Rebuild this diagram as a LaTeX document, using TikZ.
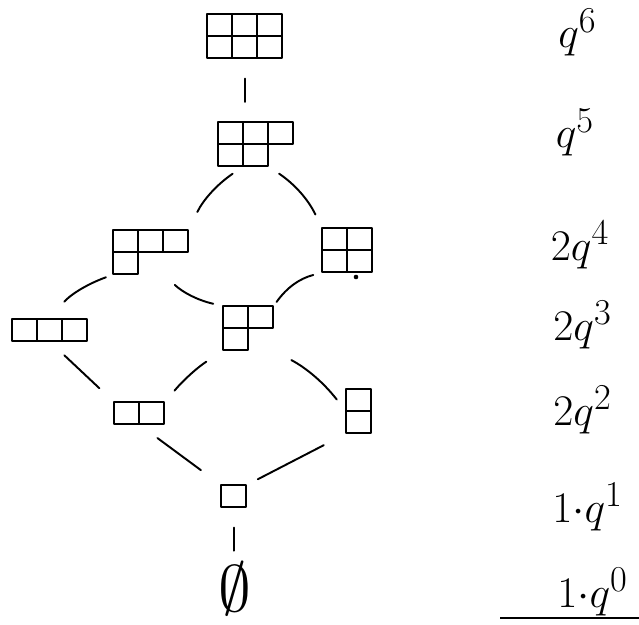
\documentclass[tikz,border=0pt]{standalone}
\usetikzlibrary{positioning}

% cells of a Young diagram, drawn from the north west corner of node #1
\newcommand{\ycells}[2]{%
  \foreach \len [count=\r] in {#2}
    \foreach \c in {1,...,\len}
      \draw[box] (#1.north west) ++({(\c-1)*0.5},{-(\r-1)*0.44}) rectangle ++(0.5,-0.44);
}

\begin{document}
\begin{tikzpicture}[
    box/.style={line width=1.2pt, line join=round},
    yd/.style={inner sep=0pt, anchor=north west},
    edge/.style={line width=1.1pt, line cap=round},
    lbl/.style={font=\Huge}
]
  \useasboundingbox (0,0) rectangle (12.78,12.5);

  % Level 6
  \node[yd, minimum width=1.5cm, minimum height=0.88cm] (t33) at (4.14,12.22) {};
  \ycells{t33}{3,3}

  % Level 5
  \node[yd, minimum width=1.5cm, minimum height=0.88cm] (t32) at (4.36,10.06) {};
  \ycells{t32}{3,2}

  % Level 4
  \node[yd, minimum width=1.5cm, minimum height=0.88cm] (t31) at (2.26,7.90) {};
  \ycells{t31}{3,1}
  \node[yd, minimum width=1.0cm, minimum height=0.88cm] (t22) at (6.44,7.94) {};
  \ycells{t22}{2,2}

  % Level 3
  \node[yd, minimum width=1.5cm, minimum height=0.44cm] (t3) at (0.24,6.12) {};
  \ycells{t3}{3}
  \node[yd, minimum width=1.0cm, minimum height=0.88cm] (t21) at (4.46,6.38) {};
  \ycells{t21}{2,1}

  % Level 2
  \node[yd, minimum width=1.0cm, minimum height=0.44cm] (t2) at (2.28,4.46) {};
  \ycells{t2}{2}
  \node[yd, minimum width=0.5cm, minimum height=0.88cm] (t11) at (6.92,4.72) {};
  \ycells{t11}{1,1}

  % Level 1
  \node[yd, minimum width=0.5cm, minimum height=0.44cm] (t1) at (4.42,2.80) {};
  \ycells{t1}{1}

  % Level 0
  \node[font=\Huge, scale=1.5] (t0) at (4.70,0.72) {$\emptyset$};

  % edges
  \draw[edge, shorten <=0.4cm, shorten >=0.4cm] (t33.south) -- (t33.south |- t32.north);
  \draw[edge, shorten <=0.25cm, shorten >=0.4cm] (t32.240) to[bend right=15] (t31.north east);
  \draw[edge, shorten <=0.25cm, shorten >=0.3cm] (t32.-60) to[bend left=15] (t22.north west);
  \draw[edge, shorten <=0.15cm, shorten >=0.45cm] (t31.south west) to[bend right=15] (t3.north);
  \draw[edge, shorten <=0.3cm, shorten >=0.2cm] (t31.-60) to[bend right=15] (t21.north west);
  \draw[edge, shorten <=0.18cm, shorten >=0.1cm] (t22.south west) to[bend right=20] (t21.north east);
  \draw[edge, shorten <=0.4cm, shorten >=0.4cm] (t3.south) -- (t2.north west);
  \draw[edge, shorten <=0.4cm, shorten >=0.3cm] (t21.south west) to[bend right=8] (t2.north east);
  \draw[edge, shorten <=0.4cm, shorten >=0.3cm] (t21.south east) to[bend left=12] (t11.west);
  \draw[edge, shorten <=0.45cm, shorten >=0.5cm] (t2.south) -- (t1.north west);
  \draw[edge, shorten <=0.5cm, shorten >=0.25cm] (t11.south west) -- (t1.north east);
  \draw[edge, shorten <=0.4cm, shorten >=0.05cm] (t1.south) -- (t1.south |- t0.north);

  % stray mark
  \fill (7.12,6.96) circle (1.3pt);

  % generating function
  \node[lbl] (l6) at (11.55,11.85) {$q^6$};
  \node[lbl] (l5) at (11.5,9.85)   {$q^5$};
  \node[lbl] (l4) at (11.6,7.6)    {$2q^4$};
  \node[lbl] (l3) at (11.65,6.0)   {$2q^3$};
  \node[lbl] (l2) at (11.65,4.3)   {$2q^2$};
  \node[lbl] (l1) at (11.75,2.36)  {$1{\cdot}q^1$};
  \node[lbl] (l0) at (11.85,0.66)  {$1{\cdot}q^0$};
  \draw[line width=1pt] (10.0,0.14) -- (12.78,0.14);
\end{tikzpicture}
\end{document}
